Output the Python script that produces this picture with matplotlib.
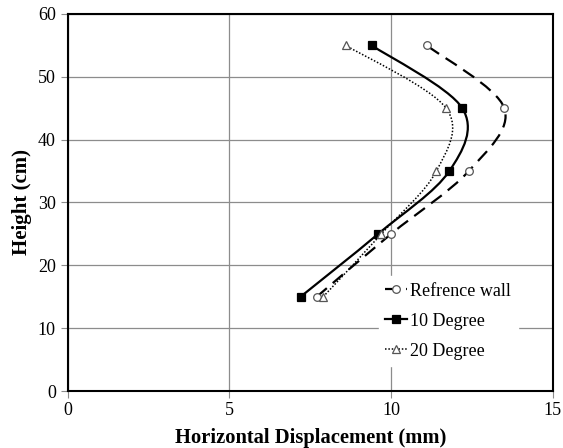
import numpy as np
import matplotlib
matplotlib.use("Agg")
import matplotlib.pyplot as plt
from matplotlib.path import Path
from matplotlib.patches import PathPatch
from matplotlib.lines import Line2D

# -----------------------------------
# Data
# -----------------------------------
height = [15, 25, 35, 45, 55]
ref_wall = [7.7, 10.0, 12.4, 13.5, 11.1]
deg_10 = [7.2, 9.6, 11.8, 12.2, 9.4]
deg_20 = [7.9, 9.7, 11.4, 11.7, 8.6]

plt.rcParams["font.family"] = ["Liberation Serif", "DejaVu Serif"]


def smooth_path(xs, ys):
    # Excel style smoothed line: Catmull-Rom segments as cubic Beziers
    pts = np.column_stack([xs, ys]).astype(float)
    ext = np.vstack([pts[0], pts, pts[-1]])
    verts = [pts[0]]
    codes = [Path.MOVETO]
    for i in range(1, len(ext) - 2):
        p0, p1, p2, p3 = ext[i - 1], ext[i], ext[i + 1], ext[i + 2]
        c1 = p1 + (p2 - p0) / 6.0
        c2 = p2 - (p3 - p1) / 6.0
        verts += [c1, c2, p2]
        codes += [Path.CURVE4] * 3
    return Path(verts, codes)


fig = plt.figure(figsize=(5.63, 4.48), dpi=100)
ax = fig.add_axes([0.12, 0.127, 0.862, 0.842])

series = [
    (ref_wall, "Refrence wall", (0, (6, 3.5)), "o", "white"),
    (deg_10, "10 Degree", "-", "s", "black"),
    (deg_20, "20 Degree", (0, (1, 1.2)), "^", "white"),
]

handles = []
for vals, name, ls, mk, fc in series:
    lw = 1.1 if name == "20 Degree" else 1.6
    ec = "black" if fc == "black" else "#555555"
    patch = PathPatch(smooth_path(vals, height), facecolor="none",
                      edgecolor="black", linestyle=ls, lw=lw, zorder=3)
    ax.add_patch(patch)
    ax.plot(vals, height, linestyle="none", marker=mk, markersize=5.5,
            markerfacecolor=fc, markeredgecolor=ec,
            markeredgewidth=0.9, zorder=4)
    handles.append(Line2D([], [], color="black", linestyle=ls, lw=lw,
                          marker=mk, markersize=5.5, markerfacecolor=fc,
                          markeredgecolor=ec, markeredgewidth=0.9, label=name))

ax.set_xlim(0, 15)
ax.set_ylim(0, 60)
ax.set_xticks([0, 5, 10, 15])
ax.set_yticks(np.arange(0, 61, 10))
ax.grid(True, color="#8c8c8c", lw=0.9)
ax.set_axisbelow(True)
for sp in ax.spines.values():
    sp.set_linewidth(1.5)
ax.tick_params(axis="both", direction="out", length=5, color="#8c8c8c",
               labelsize=13)
ax.tick_params(axis="x", pad=3)

ax.set_xlabel("Horizontal Displacement (mm)", fontsize=14.8, fontweight="bold",
              labelpad=6)
ax.set_ylabel("Height (cm)", fontsize=15, fontweight="bold", labelpad=4)

leg = ax.legend(handles=handles, loc="lower right", bbox_to_anchor=(0.946, 0.043),
                frameon=True, fontsize=13, handlelength=1.2, handletextpad=0.2,
                labelspacing=0.72, borderpad=0.35, fancybox=False)
leg.get_frame().set_edgecolor("white")
leg.get_frame().set_facecolor("white")
leg.get_frame().set_alpha(1)

fig.savefig("out.png", dpi=100)
